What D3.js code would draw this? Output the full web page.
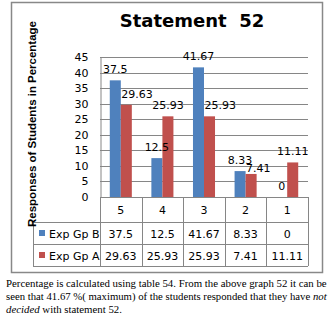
<!DOCTYPE html>
<html><head><meta charset="utf-8">
<script src="https://cdn.jsdelivr.net/npm/d3@7/dist/d3.min.js"></script>
<style>body{margin:0;background:#fff}svg{display:block}</style>
</head><body>
<script>
const categories = ["5","4","3","2","1"];
const seriesNames = ["Exp Gp B","Exp Gp A"];
const expGpB = [37.5, 12.5, 41.67, 8.33, 0];
const expGpA = [29.63, 25.93, 25.93, 7.41, 11.11];
const yTicks = [0,5,10,15,20,25,30,35,40,45];
const colors = ["#4F81BD","#C0504D"];
const title = "Statement  52";
const yTitle = "Responses of Students in Percentage";

(function(){
const W = 331, H = 318;
const svg = d3.select("body").append("svg").attr("width",W).attr("height",H);
const font = "'DejaVu Sans', Verdana, sans-serif";

svg.append("rect").attr("x",11.5).attr("y",2.5).attr("width",311).attr("height",270)
  .attr("fill","#fff").attr("stroke","#888").attr("stroke-width",1.5);

const pLeft = 100, pRight = 308, pTop = 57, pBottom = 197;
const x = d3.scaleBand().domain(categories).range([pLeft,pRight]);
const y = d3.scaleLinear().domain([0,45]).range([pBottom,pTop]);
const bw = x.bandwidth()*0.265;
const barX = (i,si)=> x(categories[i]) + x.bandwidth()/2 - bw + si*bw;

svg.append("g").selectAll("line").data(yTicks).join("line")
  .attr("x1",pLeft).attr("x2",pRight).attr("y1",d=>Math.round(y(d))+0.5).attr("y2",d=>Math.round(y(d))+0.5)
  .attr("stroke","#868686").attr("stroke-width",1);

const ya = d3.axisLeft(y).tickValues(yTicks).tickSize(0).tickPadding(12);
const gy = svg.append("g").attr("transform",`translate(${pLeft+0.5},0)`).call(ya);
gy.select(".domain").attr("stroke","#868686");
gy.selectAll("text").attr("font-family",font).attr("font-size",11).attr("fill","#000");

const series = [expGpB, expGpA];
series.forEach((vals,si)=>{
  svg.append("g").selectAll("rect").data(vals).join("rect")
    .attr("x",(d,i)=>barX(i,si))
    .attr("y",d=>y(d)).attr("width",bw).attr("height",d=>pBottom-y(d))
    .attr("fill",colors[si]);
});

const lblG = svg.append("g").attr("font-family",font).attr("font-size",11).attr("text-anchor","middle");
const blueBoxes = expGpB.map((d,i)=>{
  const t = lblG.append("text").attr("x",barX(i,0)+bw/2).attr("y",y(d)-7).text(d);
  const w = t.node().getComputedTextLength();
  return {x0:barX(i,0)+bw/2-w/2, x1:barX(i,0)+bw/2+w/2, y0:y(d)-16, y1:y(d)-7, base:y(d)-7};
});
const hit=(a,b)=> a.x0<b.x1 && a.x1>b.x0 && a.y0<b.y1 && a.y1>b.y0;
expGpA.forEach((d,i)=>{
  const t = lblG.append("text").text(d);
  const w = t.node().getComputedTextLength();
  let cx = barX(i,1)+bw/2, base = y(d)-7;
  const box = ()=>({x0:cx-w/2, x1:cx+w/2, y0:base-9, y1:base});
  const blueBar = {x0:barX(i,0), x1:barX(i,0)+bw, y0:y(expGpB[i]), y1:pBottom};
  if(hit(box(),blueBar) || hit(box(),blueBoxes[i])) {
    cx = barX(i,0)+bw + w/2 + 0.5;
    if(hit(box(),blueBoxes[i])) base = blueBoxes[i].base + 8;
  }
  t.attr("x",cx).attr("y",base);
});

const tbl = svg.append("g").attr("stroke","#868686").attr("stroke-width",1).attr("fill","none");
tbl.append("line").attr("x1",pLeft).attr("x2",pRight).attr("y1",pBottom+0.5).attr("y2",pBottom+0.5);
[222,244,266].forEach(yy=>tbl.append("line").attr("x1",33).attr("x2",pRight).attr("y1",yy+0.5).attr("y2",yy+0.5));
tbl.append("line").attr("x1",33.5).attr("x2",33.5).attr("y1",222).attr("y2",266);
categories.forEach(c=>tbl.append("line").attr("x1",Math.round(x(c))+0.5).attr("x2",Math.round(x(c))+0.5).attr("y1",pBottom).attr("y2",266));
tbl.append("line").attr("x1",pRight+0.5).attr("x2",pRight+0.5).attr("y1",pBottom).attr("y2",266);

svg.append("g").selectAll("text").data(categories).join("text")
  .attr("x",d=>x(d)+x.bandwidth()/2).attr("y",214).attr("text-anchor","middle")
  .attr("font-family",font).attr("font-size",11).text(d=>d);

series.forEach((vals,si)=>{
  const by = si===0 ? 237.5 : 259.5;
  svg.append("rect").attr("x",39).attr("y",by-7.5).attr("width",6).attr("height",6).attr("fill",colors[si]);
  svg.append("text").attr("x",49).attr("y",by).attr("font-family",font).attr("font-size",11).text(seriesNames[si]);
  svg.append("g").selectAll("text").data(vals).join("text")
    .attr("x",(d,i)=>x(categories[i])+x.bandwidth()/2).attr("y",by).attr("text-anchor","middle")
    .attr("font-family",font).attr("font-size",11).text(d=>d);
});

svg.append("text").attr("x",192).attr("y",27).attr("text-anchor","middle")
  .attr("font-family",font).attr("font-weight","bold").attr("font-size",18)
  .style("white-space","pre").text(title);

function fit(t, base, target){
  t.attr("font-size",base);
  const w = t.node().getComputedTextLength();
  let s = base;
  if(w > target) { s = base*target/w; t.attr("font-size", s); }
  return s;
}

const yt = svg.append("text").attr("transform","translate(36,124) rotate(-90)").attr("text-anchor","middle")
  .attr("font-family","'Liberation Sans', Arial, sans-serif").attr("font-weight","bold").text(yTitle);
fit(yt, 12, 206);

const serif = "'Liberation Serif', 'Times New Roman', serif";
const cap = svg.append("g").attr("font-family",serif);
const s1 = fit(cap.append("text").attr("x",6).attr("y",287)
  .text("Percentage is calculated using table 54. From the above graph 52 it can be"), 12, 321);
const l2 = cap.append("text").attr("x",6).attr("y",300);
l2.append("tspan").text("seen that 41.67 %( maximum) of the students responded that they have ");
l2.append("tspan").attr("font-style","italic").text("not");
fit(l2, 12, 321);
const l3 = cap.append("text").attr("x",6).attr("y",313).attr("font-size",s1);
l3.append("tspan").attr("font-style","italic").text("decided");
l3.append("tspan").text(" with statement 52.");
})();
</script>
</body></html>
